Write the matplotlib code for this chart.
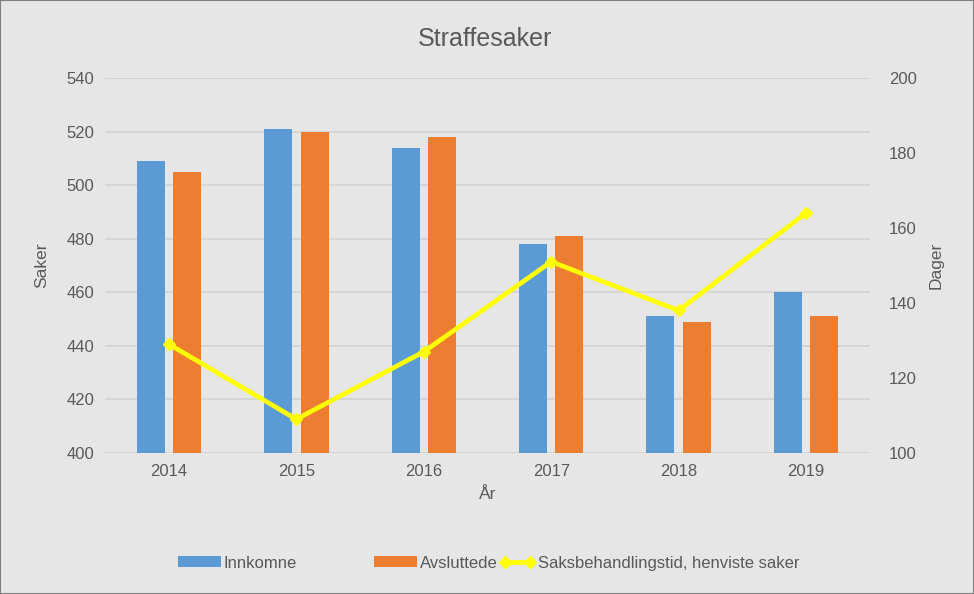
import matplotlib
matplotlib.use("Agg")
import matplotlib.pyplot as plt
import numpy as np

years = ["2014", "2015", "2016", "2017", "2018", "2019"]
innkomne = [509, 521, 514, 478, 451, 460]
avsluttede = [505, 520, 518, 481, 449, 451]
behandlingstid = [129, 109, 127, 151, 138, 164]

plt.rcParams['font.family'] = ['Liberation Sans', 'DejaVu Sans']
txt = '#595959'
bg = '#E7E6E6'

fig = plt.figure(figsize=(9.74, 5.94), dpi=100, facecolor=bg)
fig.patches.append(plt.Rectangle((0, 0), 1, 1, transform=fig.transFigure,
                                 fill=False, edgecolor='#7F7F7F', linewidth=1.5))
ax = fig.add_axes([0.108, 0.2374, 0.785, 0.6313])
ax.set_facecolor(bg)
x = np.arange(len(years))
w = 0.22
b1 = ax.bar(x - 0.143, innkomne, w, color='#5B9BD5', label='Innkomne', zorder=2)
b2 = ax.bar(x + 0.143, avsluttede, w, color='#ED7D31', label='Avsluttede', zorder=2)
ax.set_ylim(400, 540)
ax.set_yticks(range(400, 541, 20))
ax.set_xlim(-0.5, len(years) - 0.5)
ax.set_xticks(x)
ax.set_xticklabels(years)
ax.grid(axis='y', color='#D4D4D4', linewidth=1.3, zorder=0)
for s in ax.spines.values():
    s.set_visible(False)
ax.tick_params(length=0, colors=txt, labelsize=12, pad=8)
ax.set_ylabel('Saker', color=txt, fontsize=12.5, labelpad=12)
ax.set_xlabel('År', color=txt, fontsize=12.5, labelpad=6)

ax2 = ax.twinx()
ax2.set_ylim(100, 200)
ax2.set_yticks(range(100, 201, 20))
ln, = ax2.plot(x, behandlingstid, color='#FFFF00', linewidth=3.4, marker='D',
               markersize=6, label='Saksbehandlingstid, henviste saker', zorder=3)
for s in ax2.spines.values():
    s.set_visible(False)
ax2.tick_params(length=0, colors=txt, labelsize=12, pad=14)
ax2.set_ylabel('Dager', color=txt, fontsize=12.5, labelpad=8)

fig.text(0.498, 0.934, 'Straffesaker', ha='center', va='center', fontsize=18, color=txt)

common = dict(frameon=False, fontsize=12, labelcolor=txt, handletextpad=0.15,
              borderpad=0, borderaxespad=0, loc='center left')
fig.legend([b1], ['Innkomne'], bbox_to_anchor=(178 / 974, 0.052), handlelength=2.6,
           handleheight=0.6, **common)
fig.legend([b2], ['Avsluttede'], bbox_to_anchor=(374 / 974, 0.052), handlelength=2.6,
           handleheight=0.6, **common)
fig.legend([ln], [ln.get_label()], bbox_to_anchor=(500 / 974, 0.052), handlelength=2.1,
           numpoints=2, **common)
fig.savefig('out.png', dpi=100, facecolor=bg)
